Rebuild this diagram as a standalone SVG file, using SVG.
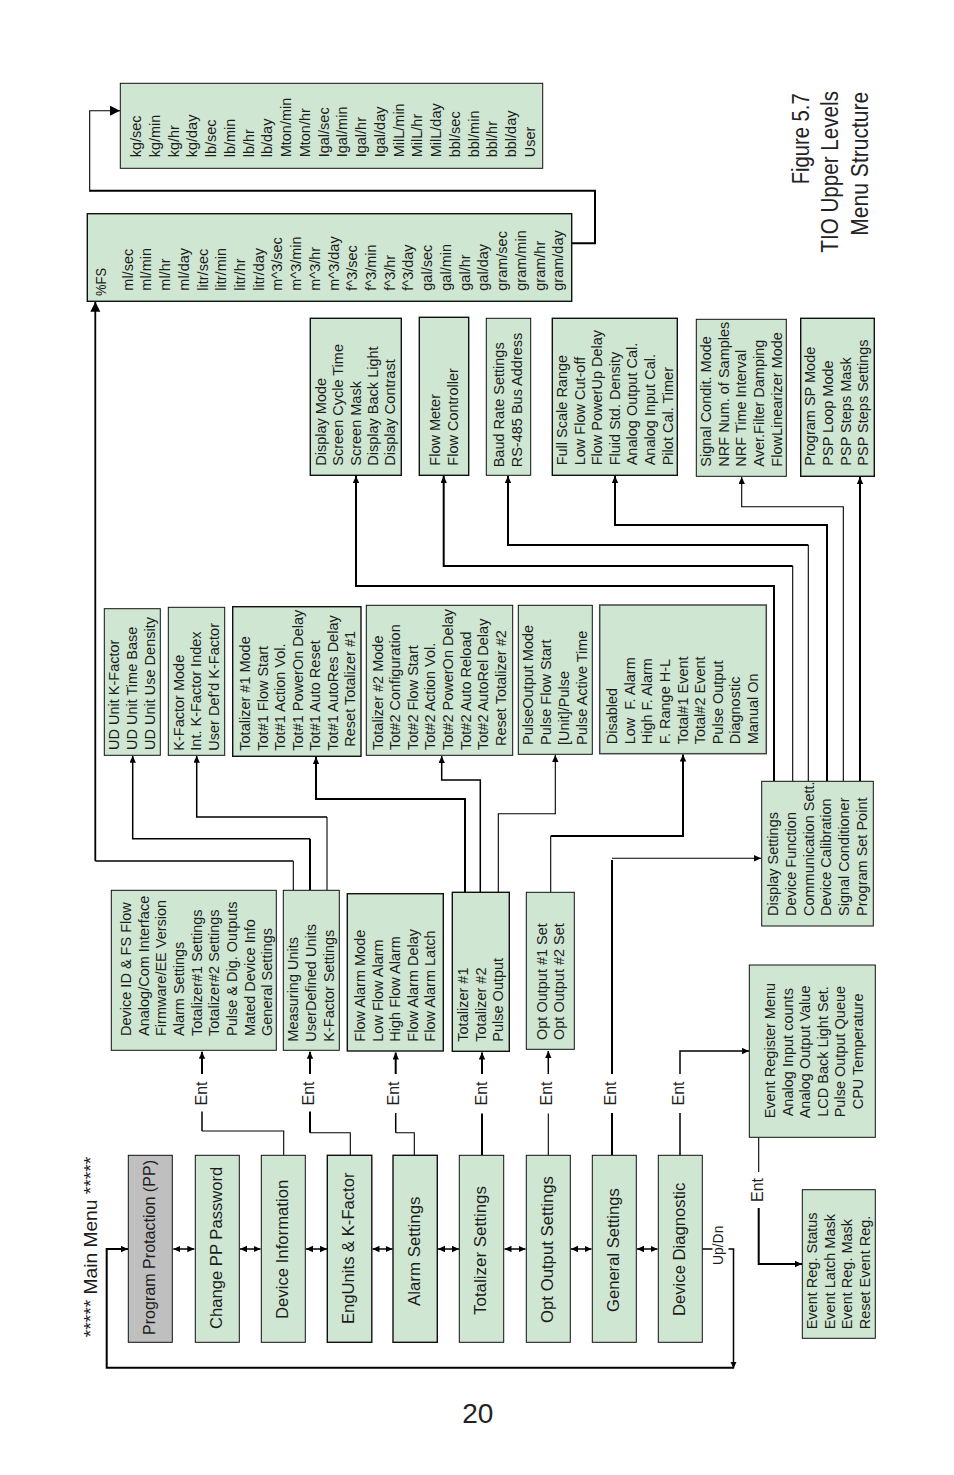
<svg xmlns="http://www.w3.org/2000/svg" width="954" height="1475" viewBox="0 0 954 1475">
<style>
text{font-family:"Liberation Sans",Arial,sans-serif;font-size:14.5px;fill:#1c1c1c;white-space:pre}
.box{fill:#cfe6d2;stroke:#111;stroke-width:1}
.b2{fill:#cfe6d2;stroke:#111;stroke-width:1.4}
.gr{fill:#bfbfbf;stroke:#111;stroke-width:1}
.m{font-size:16.5px}
.ent{font-size:16px;text-anchor:middle}
.title{font-size:23.5px;fill:#222}
#connectors path{fill:none;stroke:#000;stroke-width:1.5;stroke-linejoin:miter}
#connectors path.t{stroke-width:1.1}
#connectors path.k{stroke-width:2}
#connectors path.a{marker-end:url(#ah)}
#connectors path.d{marker-start:url(#ah);marker-end:url(#ah)}
#connectors path.big{marker-end:url(#big)}
</style>
<defs>
<marker id="ah" markerUnits="userSpaceOnUse" markerWidth="8" markerHeight="7" refX="7" refY="3.2" orient="auto-start-reverse"><path d="M0 0L7 3.2L0 6.4Z" fill="#000"/></marker>
<marker id="big" markerUnits="userSpaceOnUse" markerWidth="11" markerHeight="11" refX="10" refY="5" orient="auto"><path d="M0 0L10 5L0 10Z" fill="#000"/></marker>
</defs>
<rect width="954" height="1475" fill="#fff"/>

<g id="connectors">
<path class="d" d="M173.3 1249H194.3"/>
<path class="d" d="M240 1249H260.5"/>
<path class="d" d="M306 1249H327"/>
<path class="d" d="M372.5 1249H392.5"/>
<path class="d" d="M438 1249H459"/>
<path class="d" d="M504.5 1249H525.5"/>
<path class="d" d="M571 1249H591.5"/>
<path class="d" d="M637 1249H657.5"/>
<path class="a k" d="M733.5 1367.7H106.7V1249H128"/>
<path d="M702.3 1249H712.5"/>
<path class="a" d="M728.5 1249H733.5V1368.5"/>

<path class="t" d="M283.7 1155V1131H202"/>
<path d="M202 1131V1111.5"/>
<path class="a k" d="M202 1074V1051.7"/>
<path class="t" d="M350.3 1155V1132.7H310"/>
<path class="k" d="M310 1132.7V1111.5"/>
<path class="a k" d="M310 1074V1051.7"/>
<path class="t" d="M414.3 1155V1132.7H395.7"/>
<path d="M395.7 1132.7V1113"/>
<path class="a k" d="M395.7 1074V1052.5"/>
<path class="k" d="M482 1155V1113.5"/>
<path class="a k" d="M482 1074V1052.5"/>
<path class="t" d="M548.3 1155V1113.5"/>
<path class="a" d="M548.3 1074V1051"/>
<path class="k" d="M612 1155V1113"/>
<path class="k" d="M612 1074V860"/>
<path class="t a" d="M612 858.3H761"/>
<path d="M680 1155V1113"/>
<path class="a" d="M680 1074V1051H749"/>
<path class="t" d="M758.7 1137.5V1172"/>
<path class="a k" d="M758.7 1208V1264H802"/>

<path class="t" d="M293.3 890V861"/>
<path d="M293.3 861H95.3"/>
<path class="big" style="stroke-width:1.8" d="M95.3 861V301.8"/>
<path class="k" d="M310 890V838.7"/>
<path class="a" d="M310 838.7H132.7V755.7"/>
<path class="t" d="M327 890V817"/>
<path class="a" d="M327 817H196.7V755.7"/>
<path class="k a" d="M465 892V799H316V757"/>
<path class="a" d="M480.3 892V780H441.7V756"/>
<path class="t a" d="M498.3 892V813.7H555.3V755"/>
<path class="t" d="M550.7 892V836"/>
<path class="k a" d="M550.7 836H683V754.5"/>

<path class="k a" d="M774 781V586H356V476"/>
<path class="t" d="M792.7 781V566"/>
<path class="k a" d="M792.7 566H443.7V476"/>
<path class="t" d="M808.3 781V545"/>
<path class="k a" d="M808.3 545H508V476"/>
<path class="k a" d="M827 781V525H615V476"/>
<path class="t a" d="M843.3 781V506.7H741.7V477"/>
<path class="k a" d="M860 781V477"/>
<path class="k" d="M572 243.3H595V190.7H89.7"/>
<path class="big t" d="M89.7 191.7V110.7H120"/>

<g id="connector-labels">
<text class="ent" transform="translate(206.7,1093.5) rotate(-90)">Ent</text>
<text class="ent" transform="translate(314.3,1093.5) rotate(-90)">Ent</text>
<text class="ent" transform="translate(399.3,1093.5) rotate(-90)">Ent</text>
<text class="ent" transform="translate(486.7,1093.5) rotate(-90)">Ent</text>
<text class="ent" transform="translate(551.7,1093.5) rotate(-90)">Ent</text>
<text class="ent" transform="translate(616,1093.5) rotate(-90)">Ent</text>
<text class="ent" transform="translate(684,1093.5) rotate(-90)">Ent</text>
<text class="ent" transform="translate(762.7,1190) rotate(-90)">Ent</text>
<text transform="translate(723.3,1265) rotate(-90)" style="font-size:13.9px">Up/Dn</text>
</g>
</g>

<text id="main-menu-title" transform="translate(96.5,1247) rotate(-90)" style="font-size:19.2px;text-anchor:middle">***** Main Menu *****</text>

<g id="m1"><rect class="gr" x="128.3" y="1155.3" width="44" height="187"/><text class="m" transform="translate(155,1335) rotate(-90)" textLength="175" lengthAdjust="spacingAndGlyphs">Program Protaction (PP)</text></g>
<g id="m2"><rect class="box" x="195.3" y="1155.3" width="44" height="187"/><text class="m" transform="translate(221.5,1329) rotate(-90)" textLength="162.3" lengthAdjust="spacingAndGlyphs">Change PP Password</text></g>
<g id="m3"><rect class="box" x="261.3" y="1155.3" width="44" height="187"/><text class="m" transform="translate(288,1319) rotate(-90)" textLength="139.3" lengthAdjust="spacingAndGlyphs">Device Information</text></g>
<g id="m4"><rect class="b2" x="327.3" y="1155.3" width="44.5" height="187"/><text class="m" transform="translate(354,1324) rotate(-90)" textLength="151.5" lengthAdjust="spacingAndGlyphs">EngUnits &amp; K-Factor</text></g>
<g id="m5"><rect class="b2" x="393" y="1155.3" width="44.3" height="187"/><text class="m" transform="translate(420,1306) rotate(-90)" textLength="109.5" lengthAdjust="spacingAndGlyphs">Alarm Settings</text></g>
<g id="m6"><rect class="box" x="459.3" y="1155.3" width="44.4" height="187"/><text class="m" transform="translate(486,1315) rotate(-90)" textLength="129" lengthAdjust="spacingAndGlyphs">Totalizer Settings</text></g>
<g id="m7"><rect class="box" x="526.3" y="1155.3" width="44" height="187"/><text class="m" transform="translate(552.5,1323) rotate(-90)" textLength="147" lengthAdjust="spacingAndGlyphs">Opt Output Settings</text></g>
<g id="m8"><rect class="box" x="592.3" y="1155.3" width="44" height="187"/><text class="m" transform="translate(618.5,1312) rotate(-90)" textLength="123.7" lengthAdjust="spacingAndGlyphs">General Settings</text></g>
<g id="m9"><rect class="box" x="658.3" y="1155.3" width="44" height="187"/><text class="m" transform="translate(684.5,1316) rotate(-90)" textLength="133.3" lengthAdjust="spacingAndGlyphs">Device Diagnostic</text></g>

<g id="device-info"><rect class="box" x="111.3" y="890.3" width="165" height="160"/><text transform="translate(131,1036) rotate(-90)"><tspan x="0">Device ID &amp; FS Flow</tspan><tspan x="0" dy="17.65">Analog/Com Interface</tspan><tspan x="0" dy="17.65">Firmware/EE Version</tspan><tspan x="0" dy="17.65">Alarm Settings</tspan><tspan x="0" dy="17.65">Totalizer#1 Settings</tspan><tspan x="0" dy="17.65">Totalizer#2 Settings</tspan><tspan x="0" dy="17.65">Pulse &amp; Dig. Outputs</tspan><tspan x="0" dy="17.65">Mated Device Info</tspan><tspan x="0" dy="17.65">General Settings</tspan></text></g>
<g id="eng-units"><rect class="box" x="283.3" y="890.3" width="56" height="160"/><text transform="translate(298.3,1041.7) rotate(-90)"><tspan x="0">Measuring Units</tspan><tspan x="0" dy="17.8">UserDefined Units</tspan><tspan x="0" dy="17.8">K-Factor Settings</tspan></text></g>
<g id="alarm"><rect class="b2" x="347.3" y="893.7" width="96" height="157.3"/><text transform="translate(365,1041.7) rotate(-90)"><tspan x="0">Flow Alarm Mode</tspan><tspan x="0" dy="17.5">Low Flow Alarm</tspan><tspan x="0" dy="17.5">High Flow Alarm</tspan><tspan x="0" dy="17.5">Flow Alarm Delay</tspan><tspan x="0" dy="17.5">Flow Alarm Latch</tspan></text></g>
<g id="totalizer"><rect class="b2" x="452.3" y="892.3" width="57" height="159"/><text transform="translate(468.3,1041.7) rotate(-90)"><tspan x="0">Totalizer #1</tspan><tspan x="0" dy="17.5">Totalizer #2</tspan><tspan x="0" dy="17.5">Pulse Output</tspan></text></g>
<g id="opt-output"><rect class="box" x="526.3" y="892.3" width="48" height="157"/><text transform="translate(546.7,1040) rotate(-90)"><tspan x="0">Opt Output #1 Set</tspan><tspan x="0" dy="17.4">Opt Output #2 Set</tspan></text></g>
<g id="general"><rect class="box" x="761.7" y="781.3" width="111.6" height="144.7"/><text transform="translate(778.3,916) rotate(-90)"><tspan x="0">Display Settings</tspan><tspan x="0" dy="17.7">Device Function</tspan><tspan x="0" dy="17.7">Communication Sett.</tspan><tspan x="0" dy="17.7">Device Calibration</tspan><tspan x="0" dy="17.7">Signal Conditioner</tspan><tspan x="0" dy="17.7">Program Set Point</tspan></text></g>
<g id="diagnostic"><rect class="box" x="749.3" y="965" width="126" height="172.3"/><text transform="translate(775,1118.3) rotate(-90)"><tspan x="0">Event Register Menu</tspan><tspan x="2" dy="17.5">Analog Input counts</tspan><tspan x="0" dy="17.5">Analog Output Value</tspan><tspan x="1.5" dy="17.5">LCD Back Light Set.</tspan><tspan x="1" dy="17.5">Pulse Output Queue</tspan><tspan x="9" dy="17.5">CPU Temperature</tspan></text></g>
<g id="event-reg"><rect class="box" x="802.3" y="1189.7" width="73" height="148.6"/><text transform="translate(817.3,1329.3) rotate(-90)"><tspan x="0">Event Reg. Status</tspan><tspan x="0" dy="17.55">Event Latch Mask</tspan><tspan x="0" dy="17.55">Event Reg. Mask</tspan><tspan x="0" dy="17.55">Reset Event Reg.</tspan></text></g>

<g id="ud-unit"><rect class="box" x="104.3" y="608.7" width="56" height="146.6"/><text transform="translate(119.3,750) rotate(-90)"><tspan x="0">UD Unit K-Factor</tspan><tspan x="0" dy="17.8">UD Unit Time Base</tspan><tspan x="0" dy="17.8">UD Unit Use Density</tspan></text></g>
<g id="k-factor"><rect class="box" x="168.3" y="607.3" width="56.4" height="148"/><text transform="translate(184,750.7) rotate(-90)"><tspan x="0">K-Factor Mode</tspan><tspan x="0" dy="17.4">Int. K-Factor Index</tspan><tspan x="0" dy="17.4">User Def'd K-Factor</tspan></text></g>
<g id="tot1"><rect class="b2" x="232.7" y="606.7" width="128.3" height="149.6"/><text transform="translate(250,750.7) rotate(-90)"><tspan x="0">Totalizer #1 Mode</tspan><tspan x="0" dy="17.5">Tot#1 Flow Start</tspan><tspan x="0" dy="17.5">Tot#1 Action Vol.</tspan><tspan x="0" dy="17.5">Tot#1 PowerOn Delay</tspan><tspan x="0" dy="17.5">Tot#1 Auto Reset</tspan><tspan x="0" dy="17.5">Tot#1 AutoRes Delay</tspan><tspan x="4" dy="17.5">Reset Totalizer #1</tspan></text></g>
<g id="tot2"><rect class="box" x="366.3" y="605.3" width="146.4" height="150"/><text transform="translate(382.7,750) rotate(-90)"><tspan x="0">Totalizer #2 Mode</tspan><tspan x="0" dy="17.6">Tot#2 Configuration</tspan><tspan x="0" dy="17.6">Tot#2 Flow Start</tspan><tspan x="0" dy="17.6">Tot#2 Action Vol.</tspan><tspan x="0" dy="17.6">Tot#2 PowerOn Delay</tspan><tspan x="0" dy="17.6">Tot#2 Auto Reload</tspan><tspan x="0" dy="17.6">Tot#2 AutoRel Delay</tspan><tspan x="4" dy="17.6">Reset Totalizer #2</tspan></text></g>
<g id="pulse"><rect class="box" x="518.3" y="605.3" width="74" height="149"/><text transform="translate(533.3,745) rotate(-90)"><tspan x="0">PulseOutput Mode</tspan><tspan x="0" dy="17.8">Pulse Flow Start</tspan><tspan x="0" dy="17.8">[Unit]/Pulse</tspan><tspan x="0" dy="17.8">Pulse Active Time</tspan></text></g>
<g id="opt-events"><rect class="box" style="stroke:#444;stroke-width:1.5" x="599.7" y="605" width="166.6" height="148.7"/><text transform="translate(617.3,744.3) rotate(-90)"><tspan x="0">Disabled</tspan><tspan x="0" dy="17.6">Low  F. Alarm</tspan><tspan x="0" dy="17.6">High F. Alarm</tspan><tspan x="0" dy="17.6">F. Range H-L</tspan><tspan x="0" dy="17.6">Total#1 Event</tspan><tspan x="0" dy="17.6">Total#2 Event</tspan><tspan x="0" dy="17.6">Pulse Output</tspan><tspan x="0" dy="17.6">Diagnostic</tspan><tspan x="0" dy="17.6">Manual On</tspan></text></g>

<g id="display"><rect class="b2" x="310.3" y="318.3" width="91" height="157"/><text transform="translate(326,465.7) rotate(-90)"><tspan x="0">Display Mode</tspan><tspan x="0" dy="17.3">Screen Cycle Time</tspan><tspan x="0" dy="17.3">Screen Mask</tspan><tspan x="0" dy="17.3">Display Back Light</tspan><tspan x="0" dy="17.3">Display Contrast</tspan></text></g>
<g id="flow-meter"><rect class="b2" x="419.3" y="317.3" width="49.4" height="158"/><text transform="translate(440,465.7) rotate(-90)"><tspan x="0">Flow Meter</tspan><tspan x="0" dy="18">Flow Controller</tspan></text></g>
<g id="baud"><rect class="box" x="486.3" y="318.3" width="44.4" height="157"/><text transform="translate(504.3,467.3) rotate(-90)"><tspan x="0">Baud Rate Settings</tspan><tspan x="0" dy="18">RS-485 Bus Address</tspan></text></g>
<g id="full-scale"><rect class="b2" x="552.3" y="318.3" width="125" height="157"/><text transform="translate(567.3,465.3) rotate(-90)"><tspan x="0">Full Scale Range</tspan><tspan x="0" dy="17.55">Low Flow Cut-off</tspan><tspan x="0" dy="17.55">Flow PowerUp Delay</tspan><tspan x="0" dy="17.55">Fluid Std. Density</tspan><tspan x="0" dy="17.55">Analog Output Cal.</tspan><tspan x="0" dy="17.55">Analog Input Cal.</tspan><tspan x="0" dy="17.55">Pilot Cal. Timer</tspan></text></g>
<g id="signal"><rect class="box" x="696.3" y="319.3" width="90" height="157"/><text transform="translate(711,466.7) rotate(-90)"><tspan x="0">Signal Condit. Mode</tspan><tspan x="0" dy="17.7">NRF Num. of Samples</tspan><tspan x="0" dy="17.7">NRF Time Interval</tspan><tspan x="0" dy="17.7">Aver.Filter Damping</tspan><tspan x="0" dy="17.7">FlowLinearizer Mode</tspan></text></g>
<g id="program-sp"><rect class="b2" x="800.7" y="318.3" width="73.6" height="158"/><text transform="translate(815,465.7) rotate(-90)"><tspan x="0">Program SP Mode</tspan><tspan x="0" dy="17.8">PSP Loop Mode</tspan><tspan x="0" dy="17.8">PSP Steps Mask</tspan><tspan x="0" dy="17.8">PSP Steps Settings</tspan></text></g>

<g id="units-fs"><rect class="box" style="stroke-width:1.4" x="87.3" y="213.7" width="484.4" height="87.6"/><text transform="translate(106,296) rotate(-90)" textLength="28" lengthAdjust="spacingAndGlyphs">%FS</text><text transform="translate(132.7,290.7) rotate(-90)"><tspan x="0">ml/sec</tspan><tspan x="0" dy="18.72">ml/min</tspan><tspan x="0" dy="18.72">ml/hr</tspan><tspan x="0" dy="18.72">ml/day</tspan><tspan x="0" dy="18.72">litr/sec</tspan><tspan x="0" dy="18.72">litr/min</tspan><tspan x="0" dy="18.72">litr/hr</tspan><tspan x="0" dy="18.72">litr/day</tspan><tspan x="0" dy="18.72">m^3/sec</tspan><tspan x="0" dy="18.72">m^3/min</tspan><tspan x="0" dy="18.72">m^3/hr</tspan><tspan x="0" dy="18.72">m^3/day</tspan><tspan x="0" dy="18.72">f^3/sec</tspan><tspan x="0" dy="18.72">f^3/min</tspan><tspan x="0" dy="18.72">f^3/hr</tspan><tspan x="0" dy="18.72">f^3/day</tspan><tspan x="0" dy="18.72">gal/sec</tspan><tspan x="0" dy="18.72">gal/min</tspan><tspan x="0" dy="18.72">gal/hr</tspan><tspan x="0" dy="18.72">gal/day</tspan><tspan x="0" dy="18.72">gram/sec</tspan><tspan x="0" dy="18.72">gram/min</tspan><tspan x="0" dy="18.72">gram/hr</tspan><tspan x="0" dy="18.72">gram/day</tspan></text></g>
<g id="units-kg"><rect class="box" x="120.3" y="83.3" width="422.4" height="85"/><text transform="translate(141,157.3) rotate(-90)"><tspan x="0">kg/sec</tspan><tspan x="0" dy="18.76">kg/min</tspan><tspan x="0" dy="18.76">kg/hr</tspan><tspan x="0" dy="18.76">kg/day</tspan><tspan x="0" dy="18.76">lb/sec</tspan><tspan x="0" dy="18.76">lb/min</tspan><tspan x="0" dy="18.76">lb/hr</tspan><tspan x="0" dy="18.76">lb/day</tspan><tspan x="0" dy="18.76">Mton/min</tspan><tspan x="0" dy="18.76">Mton/hr</tspan><tspan x="0" dy="18.76">Igal/sec</tspan><tspan x="0" dy="18.76">Igal/min</tspan><tspan x="0" dy="18.76">Igal/hr</tspan><tspan x="0" dy="18.76">Igal/day</tspan><tspan x="0" dy="18.76">MilL/min</tspan><tspan x="0" dy="18.76">MilL/hr</tspan><tspan x="0" dy="18.76">MilL/day</tspan><tspan x="0" dy="18.76">bbl/sec</tspan><tspan x="0" dy="18.76">bbl/min</tspan><tspan x="0" dy="18.76">bbl/hr</tspan><tspan x="0" dy="18.76">bbl/day</tspan><tspan x="0" dy="18.76">User</tspan></text></g>

<text class="title" transform="translate(809.3,184.3) rotate(-90)" textLength="91" lengthAdjust="spacingAndGlyphs">Figure 5.7</text>
<text class="title" transform="translate(838.3,252.7) rotate(-90)" textLength="161.7" lengthAdjust="spacingAndGlyphs">TIO Upper Levels</text>
<text class="title" transform="translate(867.7,235.7) rotate(-90)" textLength="144" lengthAdjust="spacingAndGlyphs">Menu Structure</text>
<text x="462.3" y="1423.3" style="font-size:28px;fill:#222">20</text>
</svg>
